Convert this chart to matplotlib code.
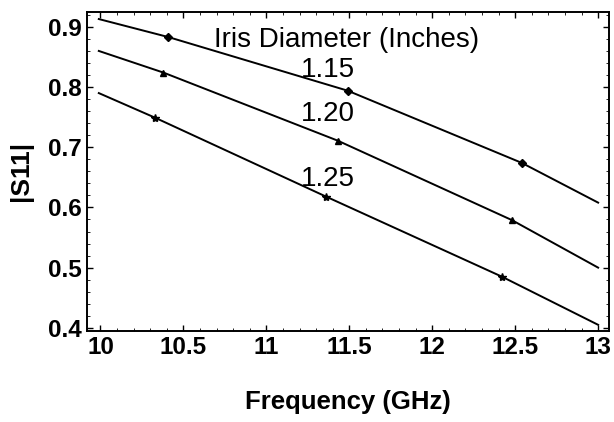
import matplotlib
matplotlib.use('Agg')
import matplotlib.pyplot as plt
from matplotlib.ticker import MultipleLocator

# frequency (GHz) and |S11|, one list per iris diameter
freq_115 = [9.99, 10.41, 11.49, 12.54, 13.0]
s11_115 = [0.913, 0.883, 0.794, 0.674, 0.608]
freq_120 = [9.99, 10.38, 11.43, 12.48, 13.0]
s11_120 = [0.860, 0.824, 0.711, 0.579, 0.500]
freq_125 = [9.99, 10.33, 11.36, 12.42, 13.0]
s11_125 = [0.790, 0.749, 0.618, 0.485, 0.405]
marker_idx = [1, 2, 3]

labels = ['1.15', '1.20', '1.25']
label_pos = [(11.37, 0.828), (11.37, 0.755), (11.37, 0.648)]
xticks = [10, 10.5, 11, 11.5, 12, 12.5, 13]
yticks = [0.4, 0.5, 0.6, 0.7, 0.8, 0.9]

plt.rcParams['font.family'] = ['Liberation Sans', 'DejaVu Sans']

fig = plt.figure(figsize=(6.14, 4.22), dpi=100)
ax = fig.add_axes([0.142, 0.216, 0.850, 0.756])

ax.plot(freq_115, s11_115, 'k-', lw=1.4, marker='D', ms=4, markevery=marker_idx)
ax.plot(freq_120, s11_120, 'k-', lw=1.4, marker='^', ms=5, markevery=marker_idx)
ax.plot(freq_125, s11_125, 'k-', lw=1.4, marker='*', ms=6, markevery=marker_idx)

ax.text(11.485, 0.878, 'Iris Diameter (Inches)', fontsize=20, ha='center', va='center')
for lab, (x, y) in zip(labels, label_pos):
    ax.text(x, y, lab, fontsize=20, ha='center', va='center')

ax.set_xlim(9.92, 13.066)
ax.set_ylim(0.395, 0.925)
ax.set_xticks(xticks)
ax.set_xticklabels([('%g' % t) for t in xticks], fontsize=17.5, fontweight='bold')
ax.set_yticks(yticks)
ax.set_yticklabels([('%.1f' % t) for t in yticks], fontsize=17.5, fontweight='bold')
ax.xaxis.set_minor_locator(MultipleLocator(0.1))
ax.yaxis.set_minor_locator(MultipleLocator(0.02))
ax.tick_params(which='both', direction='in', top=True, right=True)
ax.tick_params(which='major', length=4, width=1, pad=4)
ax.tick_params(which='minor', length=2, width=0.6)
for s in ax.spines.values():
    s.set_linewidth(1.4)

ax.set_xlabel('Frequency (GHz)', fontsize=18.5, fontweight='bold', va='center')
ax.xaxis.set_label_coords(0.5, -0.2226)
ax.set_ylabel('|S11|', fontsize=19, fontweight='bold', va='center')
ax.yaxis.set_label_coords(-0.126, 0.5)

fig.savefig('out.png', dpi=100)
